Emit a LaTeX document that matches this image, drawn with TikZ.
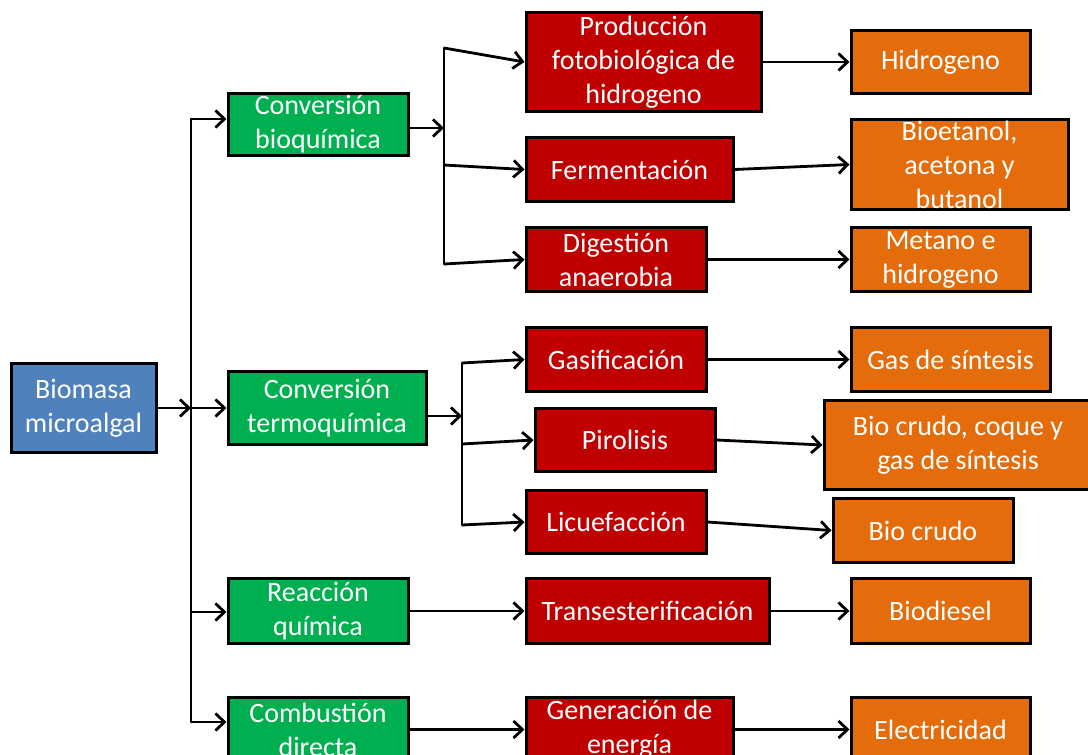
\documentclass[tikz,border=0pt]{standalone}
\usepackage{fontspec}
\setmainfont{Carlito}
\usetikzlibrary{arrows.meta}
\definecolor{cblue}{HTML}{4F81BD}
\definecolor{cgreen}{HTML}{00B050}
\definecolor{cred}{HTML}{C00000}
\definecolor{corange}{HTML}{E46C0A}
\begin{document}
\begin{tikzpicture}[x=1pt,y=-1pt,
  box/.style={draw=black, line width=3pt, text=white, align=center,
    inner sep=0pt, font=\fontsize{28}{34}\selectfont},
  src/.style={box, fill=cblue},
  proc/.style={box, fill=cgreen},
  tech/.style={box, fill=cred},
  prod/.style={box, fill=corange},
  arr/.style={line width=2.8pt, -{Straight Barb[length=9pt,width=17pt,line width=2.8pt]}},
  bus/.style={line width=2.8pt, line cap=round}]
\useasboundingbox (0,0) rectangle (1088,755);

% source
\node[src, minimum width=145pt, minimum height=89pt] (bio) at (83.5,408) {Biomasa\\microalgal};

% conversion routes
\node[proc, minimum width=180pt, minimum height=62pt] (cbq) at (318,124.5) {Conversión\\bioquímica};
\node[proc, minimum width=198pt, minimum height=73pt] (ctq) at (327,408) {Conversión\\termoquímica};
\node[proc, minimum width=180pt, minimum height=65pt] (rq) at (318,611) {Reacción\\química};
\node[proc, minimum width=180pt, minimum height=64pt] (cd) at (318,729.5) {Combustión\\directa};

% processes
\node[tech, minimum width=235pt, minimum height=99pt] (pfh) at (643.5,62) {Producción\\fotobiológica de\\hidrogeno};
\node[tech, minimum width=207pt, minimum height=64pt] (ferm) at (629.5,169.5) {Fermentación};
\node[tech, minimum width=180pt, minimum height=64pt] (dig) at (616,259.5) {Digestión\\anaerobia};
\node[tech, minimum width=180pt, minimum height=64pt] (gas) at (616,359.5) {Gasificación};
\node[tech, minimum width=180pt, minimum height=63pt] (pir) at (625,440) {Pirolisis};
\node[tech, minimum width=180pt, minimum height=63pt] (lic) at (616,522) {Licuefacción};
\node[tech, minimum width=243pt, minimum height=65pt] (tra) at (647.5,611) {Transesterificación};
\node[tech, minimum width=207pt, minimum height=64pt] (gen) at (629.5,729.5) {Generación de\\energía};

% products
\node[prod, minimum width=179pt, minimum height=63pt] (hid) at (940.5,62) {Hidrogeno};
\node[prod, minimum width=217pt, minimum height=90pt] (bet) at (959.5,164.5) {Bioetanol,\\acetona y\\butanol};
\node[prod, minimum width=179pt, minimum height=64pt] (met) at (940.5,259.5) {Metano e\\hidrogeno};
\node[prod, minimum width=199pt, minimum height=64pt] (gsi) at (950.5,359.5) {Gas de\ síntesis};
\node[prod, minimum width=268pt, minimum height=89pt] (bcc) at (958,445) {Bio crudo, coque y\\gas de síntesis};
\node[prod, minimum width=180pt, minimum height=64pt] (bcr) at (923,530.5) {Bio crudo};
\node[prod, minimum width=179pt, minimum height=65pt] (bds) at (940.5,611) {Biodiesel};
\node[prod, minimum width=179pt, minimum height=64pt] (ele) at (940.5,729.5) {Electricidad};

% junction points of the buses
\coordinate (m1) at (191,119);
\coordinate (m2) at (191,408);
\coordinate (m3) at (191,612);
\coordinate (m4) at (191,722);
\coordinate (b0) at (444,128);
\coordinate (b1) at (444,48);
\coordinate (b2) at (444,165);
\coordinate (b3) at (444,264);
\coordinate (t0) at (462,416);
\coordinate (t1) at (462,363);
\coordinate (t2) at (462,444);
\coordinate (t3) at (462,525);

% main bus
\draw[bus] (m1) -- (m4);
\draw[arr] (bio.east |- m2) -- (m2);
\draw[arr] (m1) -- (cbq.west |- m1);
\draw[arr] (m2) -- (ctq.west |- m2);
\draw[arr] (m3) -- (rq.west |- m3);
\draw[arr] (m4) -- (cd.west |- m4);

% biochemical branch
\draw[arr] (cbq.east |- b0) -- (b0);
\draw[bus] (b1) -- (b3);
\draw[arr] (b1) -- (pfh.west);
\draw[arr] (b2) -- (ferm.west);
\draw[arr] (b3) -- (dig.west);

% thermochemical branch
\draw[arr] (ctq.east |- t0) -- (t0);
\draw[bus] (t1) -- (t3);
\draw[arr] (t1) -- (gas.west);
\draw[arr] (t2) -- (pir.west);
\draw[arr] (t3) -- (lic.west);

% single routes
\draw[arr] (rq) -- (tra);
\draw[arr] (cd) -- (gen);

% processes to products
\draw[arr] (pfh.east) -- (hid.west);
\draw[arr] (ferm.east) -- (bet.west);
\draw[arr] (dig.east) -- (met.west);
\draw[arr] (gas.east) -- (gsi.west);
\draw[arr] (pir.east) -- (bcc.west);
\draw[arr] (lic.east) -- (bcr.west);
\draw[arr] (tra) -- (bds);
\draw[arr] (gen) -- (ele);
\end{tikzpicture}
\end{document}
